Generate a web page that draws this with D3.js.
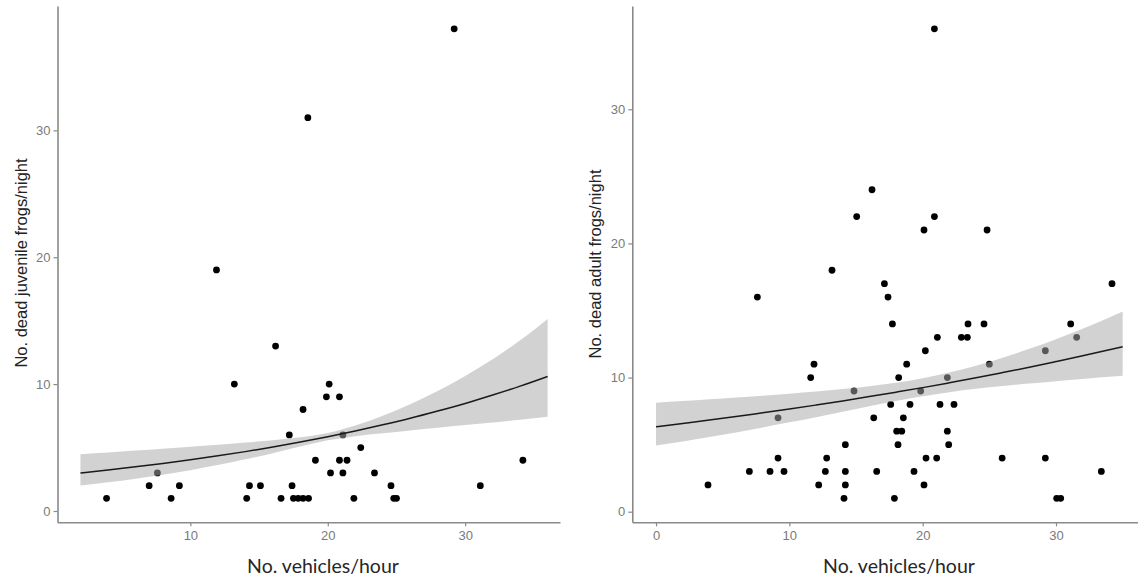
<!DOCTYPE html>
<html>
<head>
<meta charset="utf-8">
<script src="https://cdn.jsdelivr.net/npm/d3@7"></script>
<style>
  html, body { margin: 0; padding: 0; background: #fff; }
  svg { display: block; }
  .tick text { font-family: "Liberation Sans", Arial, sans-serif; font-size: 13px; fill: #7a7a7a; }
</style>
</head>
<body>
<svg id="chart" width="1138" height="579"></svg>
<script>
// Juvenile frogs: observed nights (vehicles/hour, dead frogs)
const juvVehicles = [3.9, 7.0, 7.6, 8.6, 9.2, 11.9, 13.2, 14.1, 14.3, 15.1, 16.2, 16.6, 17.2, 17.4, 17.5, 17.85, 18.2, 18.6, 18.2, 18.55, 19.1, 19.9, 20.1, 20.2, 20.85, 20.85, 21.1, 21.1, 21.4, 21.9, 22.4, 23.4, 24.6, 24.8, 25.0, 29.2, 31.1, 34.2];
const juvDead     = [1,   2,   3,   1,   2,   19,   10,   1,    2,    2,    13,   1,    6,    2,    1,    1,     1,    1,    8,    31,    4,    9,    10,   3,    9,     4,     3,    6,    4,    1,    5,    3,    2,    1,    1,    38,   2,    4];

// Juvenile frogs: fitted trend with 95% band
const juvFitX  = [2, 4, 6, 8, 10, 12, 14, 16, 18, 20, 22, 24, 26, 28, 30, 32, 34, 36];
const juvFit   = [3.00, 3.23, 3.48, 3.75, 4.04, 4.35, 4.68, 5.05, 5.43, 5.85, 6.30, 6.79, 7.31, 7.88, 8.48, 9.14, 9.84, 10.60];
const juvLower = [2.01, 2.26, 2.55, 2.86, 3.22, 3.62, 4.07, 4.56, 5.08, 5.57, 5.90, 6.13, 6.35, 6.56, 6.77, 6.98, 7.20, 7.42];
const juvUpper = [4.48, 4.61, 4.76, 4.91, 5.06, 5.22, 5.40, 5.58, 5.81, 6.15, 6.74, 7.51, 8.42, 9.46, 10.64, 11.96, 13.45, 15.14];

// Adult frogs: observed nights (vehicles/hour, dead frogs)
const adultVehicles = [3.9, 7.0, 7.6, 8.55, 9.15, 9.15, 9.6, 11.6, 11.85, 12.2, 12.7, 12.8, 13.2, 14.1, 14.2, 14.2, 14.2, 14.85, 15.05, 16.2, 16.33, 16.55, 17.13, 17.4, 17.6, 17.73, 17.88, 18.05, 18.15, 18.2, 18.43, 18.55, 18.8, 19.05, 19.35, 19.85, 20.1, 20.1, 20.2, 20.25, 20.88, 20.88, 21.05, 21.1, 21.3, 21.85, 21.85, 21.95, 22.35, 22.9, 23.35, 23.4, 24.6, 24.83, 25.0, 25.96, 29.2, 29.2, 30.05, 30.35, 31.1, 31.55, 33.4, 34.2];
const adultDead     = [2,   3,   16,  3,    4,    7,    3,   10,   11,    2,    3,    4,    18,   1,    2,    3,    5,    9,     22,    24,   7,     3,     17,    16,   8,    14,    1,     6,     5,     10,   6,     7,     11,   8,     3,     9,     2,    21,   12,   4,     36,    22,    4,     13,   8,    10,    6,     5,     8,     13,   13,    14,   14,   21,    11,   4,     12,   4,    1,     1,     14,   13,    3,    17];

// Adult frogs: fitted trend with 95% band
const adultFitX  = [0, 2, 4, 6, 8, 10, 12, 14, 16, 18, 20, 22, 24, 26, 28, 30, 32, 34, 35];
const adultFit   = [6.33, 6.58, 6.83, 7.09, 7.37, 7.65, 7.95, 8.26, 8.58, 8.91, 9.25, 9.61, 9.98, 10.37, 10.77, 11.19, 11.62, 12.07, 12.30];
const adultLower = [4.93, 5.24, 5.57, 5.91, 6.28, 6.66, 7.05, 7.46, 7.87, 8.26, 8.61, 8.91, 9.16, 9.37, 9.55, 9.73, 9.90, 10.06, 10.14];
const adultUpper = [8.13, 8.25, 8.38, 8.51, 8.65, 8.80, 8.96, 9.14, 9.35, 9.61, 9.95, 10.37, 10.88, 11.48, 12.14, 12.86, 13.64, 14.48, 14.92];

// Axis ticks and titles
const juvXTicks = [10, 20, 30];
const juvYTicks = [0, 10, 20, 30];
const adultXTicks = [0, 10, 20, 30];
const adultYTicks = [0, 10, 20, 30];
const xTitle = "No. vehicles/hour";
const juvYTitle = "No. dead juvenile frogs/night";
const adultYTitle = "No. dead adult frogs/night";

const svg = d3.select("#chart");

function drawPanel(cfg) {
  const x = d3.scaleLinear().domain(cfg.xDomain).range([cfg.left, cfg.right]);
  const y = d3.scaleLinear().domain(cfg.yDomain).range([cfg.bottom, cfg.top]);
  const g = svg.append("g");

  // observations
  const pts = cfg.px.map((v, i) => ({ x: v, y: cfg.py[i] }));
  g.append("g").selectAll("circle").data(pts).join("circle")
    .attr("cx", d => x(d.x)).attr("cy", d => y(d.y))
    .attr("r", 3.4).attr("fill", "#000");

  // confidence band, drawn over the points
  const band = cfg.fx.map((v, i) => ({ x: v, lo: cfg.lo[i], hi: cfg.hi[i], f: cfg.fit[i] }));
  g.append("path").datum(band)
    .attr("d", d3.area().curve(d3.curveMonotoneX).x(d => x(d.x)).y0(d => y(d.lo)).y1(d => y(d.hi)))
    .attr("fill", "#a8a8a8").attr("fill-opacity", 0.52);

  // fitted line
  g.append("path").datum(band)
    .attr("d", d3.line().curve(d3.curveMonotoneX).x(d => x(d.x)).y(d => y(d.f)))
    .attr("fill", "none").attr("stroke", "#1a1a1a").attr("stroke-width", 1.5);

  // axes
  const xa = g.append("g").attr("transform", `translate(0,${cfg.bottom})`)
    .call(d3.axisBottom(x).tickValues(cfg.xTicks).tickSize(4).tickPadding(4).tickSizeOuter(0));
  const ya = g.append("g").attr("transform", `translate(${cfg.left},0)`)
    .call(d3.axisLeft(y).tickValues(cfg.yTicks).tickSize(4).tickPadding(3).tickSizeOuter(0));
  [xa, ya].forEach(a => {
    a.select(".domain").attr("stroke", "#8a8a8a").attr("stroke-width", 1.6);
    a.selectAll(".tick line").attr("stroke", "#8a8a8a").attr("stroke-width", 1.2);
  });

  // titles
  g.append("text")
    .attr("x", cfg.xTitleX).attr("y", 573)
    .attr("text-anchor", "middle")
    .style("font-family", "Lato, 'Open Sans', sans-serif").style("font-size", "19.5px").style("fill", "#262626")
    .text(xTitle);
  g.append("text")
    .attr("transform", `translate(${cfg.yTitleX},${cfg.yTitleY}) rotate(-90)`)
    .attr("text-anchor", "middle")
    .style("font-family", "'Liberation Sans', Arial, sans-serif").style("font-size", "16.5px").style("fill", "#222")
    .text(cfg.yTitle);
}

drawPanel({
  px: juvVehicles, py: juvDead,
  fx: juvFitX, fit: juvFit, lo: juvLower, hi: juvUpper,
  xDomain: [0.33, 36.9], yDomain: [-0.89, 39.8],
  left: 57.5, right: 560, top: 6, bottom: 522.3,
  xTicks: juvXTicks, yTicks: juvYTicks,
  xTitleX: 323, yTitleX: 26.5, yTitleY: 263, yTitle: juvYTitle
});

drawPanel({
  px: adultVehicles, py: adultDead,
  fx: adultFitX, fit: adultFit, lo: adultLower, hi: adultUpper,
  xDomain: [-1.78, 36.75], yDomain: [-0.79, 37.7],
  left: 632.3, right: 1146, top: 6, bottom: 522.3,
  xTicks: adultXTicks, yTicks: adultYTicks,
  xTitleX: 899, yTitleX: 600.5, yTitleY: 264, yTitle: adultYTitle
});
</script>
</body>
</html>
